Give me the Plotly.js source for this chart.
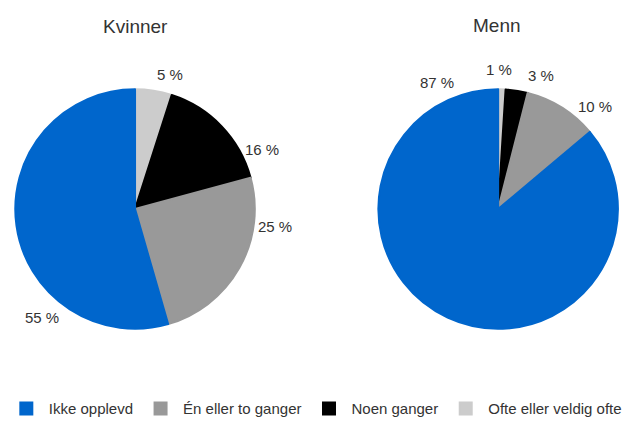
<!DOCTYPE html>
<html>
<head>
<meta charset="utf-8">
<script src="https://cdn.plot.ly/plotly-3.0.1.min.js"></script>
<style>html,body{margin:0;padding:0;background:#fff;}#chart{width:637px;height:421px;}</style>
</head>
<body>
<div id="chart"></div>
<script>
const categories = ['Ikke opplevd', 'Én eller to ganger', 'Noen ganger', 'Ofte eller veldig ofte'];
const groups = ['Kvinner', 'Menn'];
const kvinnerValues = [55, 25, 16, 5];
const mennValues = [87, 10, 3, 1];
const colors = ['#0066cc', '#999999', '#000000', '#cccccc'];

// Label placement (layout only, paper coordinates) as in the reference
const kvinnerLabelPos = [[0.066, 0.245], [0.432, 0.463], [0.411, 0.646], [0.267, 0.824]];
const mennLabelPos = [[0.686, 0.805], [0.934, 0.746], [0.849, 0.820], [0.783, 0.836]];

const fontFamily = 'Liberation Sans, Arial, sans-serif';
const textColor = '#333333';

// slices are drawn clockwise from 12 o'clock, starting with the last category
const rev = a => a.slice().reverse();

function pieTrace(vals, name, dom) {
  return {
    type: 'pie',
    name: name,
    labels: rev(categories),
    values: rev(vals),
    sort: false,
    direction: 'clockwise',
    rotation: 0,
    marker: {colors: rev(colors), line: {width: 2, color: rev(colors)}},
    textinfo: 'none',
    hoverinfo: 'label+value',
    domain: dom
  };
}

const data = [
  pieTrace(kvinnerValues, groups[0], {x: [0.024, 0.400], y: [0.218, 0.789]}),
  pieTrace(mennValues, groups[1], {x: [0.594, 0.970], y: [0.218, 0.789]})
];

const annotations = [
  {text: groups[0], x: 0.212, y: 0.938},
  {text: groups[1], x: 0.781, y: 0.940}
].map(a => Object.assign(a, {xref: 'paper', yref: 'paper', showarrow: false,
  font: {size: 19, color: textColor}, xanchor: 'center', yanchor: 'middle'}));

function addLabels(vals, pos) {
  vals.forEach((v, i) => {
    annotations.push({text: v + ' %', x: pos[i][0], y: pos[i][1], xref: 'paper', yref: 'paper',
      showarrow: false, xanchor: 'center', yanchor: 'middle',
      font: {size: 15, color: textColor}});
  });
}
addLabels(kvinnerValues, kvinnerLabelPos);
addLabels(mennValues, mennLabelPos);

const layout = {
  width: 637, height: 421,
  margin: {l: 0, r: 0, t: 0, b: 0, autoexpand: false},
  paper_bgcolor: '#ffffff',
  font: {family: fontFamily, size: 15, color: textColor},
  showlegend: true,
  legend: {orientation: 'h', x: 0.006, xanchor: 'left', y: -0.01, yanchor: 'bottom',
           itemwidth: 35, font: {size: 15, color: textColor}, traceorder: 'reversed'},
  annotations: annotations
};

Plotly.newPlot('chart', data, layout, {displayModeBar: false, staticPlot: true});
</script>
</body>
</html>
